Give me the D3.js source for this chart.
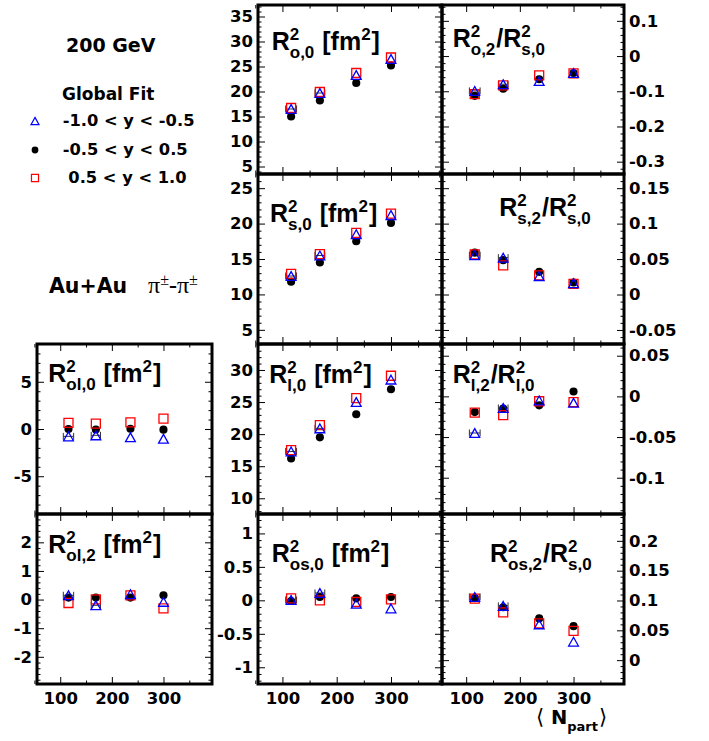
<!DOCTYPE html>
<html><head><meta charset="utf-8">
<script src="https://cdn.jsdelivr.net/npm/d3@7"></script>
<style>body{margin:0;background:#fff}svg{display:block}</style>
</head><body><svg id="c" width="709" height="741"></svg>
<script>
// ---------- data ----------
const npart = [116, 169, 236, 300];
const npartErr = [10, 9, 0, 0];          // x error bars (visible on the -1.0<y<-0.5 set)
const xTicks = [100, 200, 300];
const seriesLabels = ["-1.0 < y < -0.5", "-0.5 < y < 0.5", " 0.5 < y < 1.0"];

// R^2_{o,0}
const Ro0_tri  = [16.5, 19.7, 23.3, 26.5];
const Ro0_circ = [15.0, 18.2, 21.7, 25.2];
const Ro0_sq   = [16.7, 19.9, 23.7, 26.8];
const Ro0_ticks = [5, 10, 15, 20, 25, 30, 35];
// R^2_{o,2}/R^2_{s,0}
const Ro2_tri  = [-0.099, -0.080, -0.071, -0.048];
const Ro2_circ = [-0.113, -0.093, -0.066, -0.048];
const Ro2_sq   = [-0.108, -0.083, -0.055, -0.049];
const Ro2_ticks = [-0.3, -0.2, -0.1, 0, 0.1];
// R^2_{s,0}
const Rs0_tri  = [12.6, 15.5, 18.5, 21.2];
const Rs0_circ = [11.8, 14.5, 17.5, 20.1];
const Rs0_sq   = [12.9, 15.7, 18.7, 21.4];
const Rs0_ticks = [5, 10, 15, 20, 25];
// R^2_{s,2}/R^2_{s,0}
const Rs2_tri  = [0.0555, 0.052, 0.026, 0.016];
const Rs2_circ = [0.059, 0.0485, 0.032, 0.017];
const Rs2_sq   = [0.0565, 0.041, 0.027, 0.015];
const Rs2_ticks = [-0.05, 0, 0.05, 0.1, 0.15];
// R^2_{ol,0}
const Rol0_tri  = [-0.78, -0.67, -0.88, -1.03];
const Rol0_circ = [0.0, -0.05, 0.03, -0.07];
const Rol0_sq   = [0.64, 0.56, 0.70, 1.09];
const Rol0_ticks = [-5, 0, 5];
// R^2_{l,0}
const Rl0_tri  = [17.3, 20.9, 25.0, 28.5];
const Rl0_circ = [16.2, 19.5, 23.1, 27.0];
const Rl0_sq   = [17.5, 21.4, 25.6, 29.1];
const Rl0_ticks = [10, 15, 20, 25, 30];
// R^2_{l,2}/R^2_{l,0}
const Rl2_tri  = [-0.045, -0.0143, -0.005, -0.0078];
const Rl2_circ = [-0.0193, -0.015, -0.011, 0.006];
const Rl2_sq   = [-0.020, -0.023, -0.006, -0.007];
const Rl2_ticks = [-0.1, -0.05, 0, 0.05];
// R^2_{ol,2}
const Rol2_tri  = [0.15, -0.20, 0.19, -0.08];
const Rol2_circ = [0.07, 0.07, 0.07, 0.15];
const Rol2_sq   = [-0.12, 0.01, 0.15, -0.31];
const Rol2_ticks = [-2, -1, 0, 1, 2];
// R^2_{os,0}
const Ros0_tri  = [0.005, 0.11, -0.05, -0.12];
const Ros0_circ = [-0.01, 0.05, 0.03, 0.05];
const Ros0_sq   = [0.03, 0.0, -0.025, 0.015];
const Ros0_ticks = [-1, -0.5, 0, 0.5, 1];
// R^2_{os,2}/R^2_{s,0}
const Ros2_tri  = [0.106, 0.091, 0.060, 0.031];
const Ros2_circ = [0.104, 0.0886, 0.070, 0.057];
const Ros2_sq   = [0.103, 0.080, 0.0617, 0.049];
const Ros2_ticks = [0, 0.05, 0.1, 0.15, 0.2];

// ---------- layout ----------
const svg = d3.select("#c");
const colX = [[37, 212], [258, 442], [442, 624]];
const rowY = [[5, 174], [174, 344], [344, 514], [514, 684]];
const xDomain = [55, 394];
const TICKF = "DejaVu Sans", TITLEF = "Liberation Sans";
const TICKSIZE = 16.5;

const panels = [
  {col:1,row:0,dom:[3.5,37.3],ticks:Ro0_ticks,minor:1,data:[Ro0_tri,Ro0_circ,Ro0_sq],
   tpos:[13.7,45],title:[{n:"R"},{sup:"2",sub:"o,0"},{n:" [fm"},{sup:"2"},{n:"]"}]},
  {col:2,row:0,dom:[-0.335,0.145],ticks:Ro2_ticks,minor:0.02,data:[Ro2_tri,Ro2_circ,Ro2_sq],
   tpos:[10.7,42.3],title:[{n:"R"},{sup:"2",sub:"o,2"},{n:"/R"},{sup:"2",sub:"s,0"}]},
  {col:1,row:1,dom:[3,27],ticks:Rs0_ticks,minor:1,data:[Rs0_tri,Rs0_circ,Rs0_sq],
   tpos:[12,47.7],title:[{n:"R"},{sup:"2",sub:"s,0"},{n:" [fm"},{sup:"2"},{n:"]"}]},
  {col:2,row:1,dom:[-0.0698,0.170],ticks:Rs2_ticks,minor:0.01,data:[Rs2_tri,Rs2_circ,Rs2_sq],
   tpos:[57.3,41.7],title:[{n:"R"},{sup:"2",sub:"s,2"},{n:"/R"},{sup:"2",sub:"s,0"}]},
  {col:0,row:2,dom:[-9,9],ticks:Rol0_ticks,minor:1,data:[Rol0_tri,Rol0_circ,Rol0_sq],
   tpos:[11.3,37.7],title:[{n:"R"},{sup:"2",sub:"ol,0"},{n:" [fm"},{sup:"2"},{n:"]"}]},
  {col:1,row:2,dom:[7.55,34.05],ticks:Rl0_ticks,minor:1,data:[Rl0_tri,Rl0_circ,Rl0_sq],
   tpos:[11.3,39.3],title:[{n:"R"},{sup:"2",sub:"l,0"},{n:" [fm"},{sup:"2"},{n:"]"}]},
  {col:2,row:2,dom:[-0.1446,0.0644],ticks:Rl2_ticks,minor:0.01,data:[Rl2_tri,Rl2_circ,Rl2_sq],
   tpos:[10.7,39.3],title:[{n:"R"},{sup:"2",sub:"l,2"},{n:"/R"},{sup:"2",sub:"l,0"}]},
  {col:0,row:3,dom:[-2.95,2.99],ticks:Rol2_ticks,minor:0.2,data:[Rol2_tri,Rol2_circ,Rol2_sq],
   tpos:[11.3,39.3],title:[{n:"R"},{sup:"2",sub:"ol,2"},{n:" [fm"},{sup:"2"},{n:"]"}]},
  {col:1,row:3,dom:[-1.25,1.29],ticks:Ros0_ticks,minor:0.1,data:[Ros0_tri,Ros0_circ,Ros0_sq],
   tpos:[13.7,47.7],title:[{n:"R"},{sup:"2",sub:"os,0"},{n:" [fm"},{sup:"2"},{n:"]"}]},
  {col:2,row:3,dom:[-0.04,0.245],ticks:Ros2_ticks,minor:0.01,data:[Ros2_tri,Ros2_circ,Ros2_sq],
   tpos:[48,47.7],title:[{n:"R"},{sup:"2",sub:"os,2"},{n:"/R"},{sup:"2",sub:"s,0"}]}
];

const fmt = v => (v < 0 ? "-" : "") + String(Math.abs(v));
function minorVals(d, m) {
  const out = [];
  for (let i = Math.ceil(d[0] / m - 1e-9); i <= Math.floor(d[1] / m + 1e-9); i++) out.push(+(i * m).toFixed(6));
  return out;
}
const triSym = { draw(ctx, size) { const w = Math.sqrt(size), h = w * 0.9;
  ctx.moveTo(0, -h / 2); ctx.lineTo(w / 2, h / 2); ctx.lineTo(-w / 2, h / 2); ctx.closePath(); } };
const styles = [
  {type: triSym, size: 96, fill: "none", stroke: "#0000ff"},
  {type: d3.symbolCircle, size: 52, fill: "#000", stroke: "none"},
  {type: d3.symbolSquare, size: 81, fill: "none", stroke: "#ff0000"}
];
const drawOrder = [1, 2, 0];

function styleAxis(g, size) {
  g.select(".domain").remove();
  g.selectAll("line").attr("stroke", "#000").attr("stroke-width", 1);
  g.selectAll("text").attr("font-family", TICKF).attr("font-weight", "bold")
    .attr("font-size", size).attr("fill", "#000");
}

function drawTitle(g, x, y, parts) {
  let cx = x;
  parts.forEach(pt => {
    if (pt.n !== undefined) {
      const t = g.append("text").attr("x", cx).attr("y", y).attr("font-size", 25)
        .attr("xml:space", "preserve").style("white-space", "pre").text(pt.n);
      cx += t.node().getComputedTextLength();
    } else {
      let w = 0;
      if (pt.sup) { const t = g.append("text").attr("x", cx).attr("y", y - 10).attr("font-size", 17).text(pt.sup);
        w = Math.max(w, t.node().getComputedTextLength()); }
      if (pt.sub) { const t = g.append("text").attr("x", cx).attr("y", y + 8).attr("font-size", 17).text(pt.sub);
        w = Math.max(w, t.node().getComputedTextLength()); }
      cx += w + 1;
    }
  });
}

panels.forEach(p => {
  const [x0, x1] = colX[p.col], [y0, y1] = rowY[p.row];
  const x = d3.scaleLinear().domain(xDomain).range([x0, x1]);
  const y = d3.scaleLinear().domain(p.dom).range([y1, y0]);
  const g = svg.append("g");
  const labelsLeft = p.col < 2, bottom = p.row === 3;
  const mY = minorVals(p.dom, p.minor).filter(v => !p.ticks.some(t => Math.abs(t - v) < 1e-9));
  const mX = [50, 150, 250, 350];

  // y axes
  g.append("g").attr("transform", `translate(${x0},0)`)
    .call(d3.axisLeft(y).tickValues(p.ticks).tickSizeInner(-7).tickSizeOuter(0).tickPadding(5)
      .tickFormat(labelsLeft ? fmt : () => "")).call(a => styleAxis(a, TICKSIZE));
  g.append("g").attr("transform", `translate(${x0},0)`)
    .call(d3.axisLeft(y).tickValues(mY).tickSizeInner(-3.5).tickSizeOuter(0).tickFormat(() => ""))
    .call(a => styleAxis(a, TICKSIZE));
  g.append("g").attr("transform", `translate(${x1},0)`)
    .call(d3.axisRight(y).tickValues(p.ticks).tickSizeInner(-7).tickSizeOuter(0).tickPadding(5)
      .tickFormat(labelsLeft ? () => "" : fmt)).call(a => styleAxis(a, TICKSIZE));
  g.append("g").attr("transform", `translate(${x1},0)`)
    .call(d3.axisRight(y).tickValues(mY).tickSizeInner(-3.5).tickSizeOuter(0).tickFormat(() => ""))
    .call(a => styleAxis(a, TICKSIZE));
  // x axes
  g.append("g").attr("transform", `translate(0,${y0})`)
    .call(d3.axisTop(x).tickValues(xTicks).tickSizeInner(-7).tickSizeOuter(0).tickFormat(() => ""))
    .call(a => styleAxis(a, TICKSIZE));
  g.append("g").attr("transform", `translate(0,${y0})`)
    .call(d3.axisTop(x).tickValues(mX).tickSizeInner(-3.5).tickSizeOuter(0).tickFormat(() => ""))
    .call(a => styleAxis(a, TICKSIZE));
  g.append("g").attr("transform", `translate(0,${y1})`)
    .call(d3.axisBottom(x).tickValues(xTicks).tickSizeInner(-7).tickSizeOuter(0).tickPadding(8)
      .tickFormat(bottom ? d3.format("d") : () => "")).call(a => styleAxis(a, TICKSIZE));
  g.append("g").attr("transform", `translate(0,${y1})`)
    .call(d3.axisBottom(x).tickValues(mX).tickSizeInner(-3.5).tickSizeOuter(0).tickFormat(() => ""))
    .call(a => styleAxis(a, TICKSIZE));

  // x error bars (triangle series)
  const eg = g.append("g").attr("stroke", "#333").attr("stroke-width", 1).attr("fill", "none");
  npart.forEach((n, i) => {
    const e = npartErr[i]; if (!e) return;
    const yy = y(p.data[0][i]);
    eg.append("line").attr("x1", x(n - e)).attr("x2", x(n + e)).attr("y1", yy).attr("y2", yy);
    eg.append("line").attr("x1", x(n - e)).attr("x2", x(n - e)).attr("y1", yy - 3.5).attr("y2", yy + 3.5);
    eg.append("line").attr("x1", x(n + e)).attr("x2", x(n + e)).attr("y1", yy - 3.5).attr("y2", yy + 3.5);
  });

  // markers
  drawOrder.forEach(si => {
    const s = styles[si];
    g.append("g").selectAll("path").data(p.data[si]).join("path")
      .attr("transform", (v, i) => `translate(${x(npart[i])},${y(v)})`)
      .attr("d", d3.symbol().type(s.type).size(s.size))
      .attr("fill", s.fill).attr("stroke", s.stroke).attr("stroke-width", 1.3);
  });

  // frame
  g.append("rect").attr("x", x0).attr("y", y0).attr("width", x1 - x0).attr("height", y1 - y0)
    .attr("fill", "none").attr("stroke", "#000").attr("stroke-width", 3);

  // title
  const tg = g.append("g").attr("font-family", TITLEF).attr("font-weight", "bold").attr("fill", "#000");
  drawTitle(tg, x0 + p.tpos[0], y0 + p.tpos[1], p.title);
});

// ---------- free text & legend ----------
const T = svg.append("g").attr("font-family", TICKF).attr("font-weight", "bold").attr("fill", "#000");
T.append("text").attr("x", 66).attr("y", 52).attr("font-size", 19).text("200 GeV");
T.append("text").attr("x", 62).attr("y", 100).attr("font-size", 17).text("Global Fit");
const legY = [126, 155, 183];
const legStyles = [
  {type: triSym, size: 64, fill: "none", stroke: "#0000ff"},
  {type: d3.symbolCircle, size: 36, fill: "#000", stroke: "none"},
  {type: d3.symbolSquare, size: 50, fill: "none", stroke: "#ff0000"}
];
seriesLabels.forEach((lab, i) => {
  const s = legStyles[i];
  svg.append("path").attr("transform", `translate(35,${legY[i] - 5})`)
    .attr("d", d3.symbol().type(s.type).size(s.size))
    .attr("fill", s.fill).attr("stroke", s.stroke).attr("stroke-width", 1.2);
  T.append("text").attr("x", 62.7).attr("y", legY[i]).attr("font-size", 16.3)
    .attr("xml:space", "preserve").style("white-space", "pre").text(lab);
});
T.append("text").attr("x", 49).attr("y", 293).attr("font-size", 20.5).text("Au+Au");
const pi = svg.append("text").attr("x", 148).attr("y", 293).attr("font-family", "Liberation Serif")
  .attr("font-size", 24).attr("fill", "#000");
pi.append("tspan").text("π");
pi.append("tspan").attr("dy", -8).attr("font-size", 16).text("±");
pi.append("tspan").attr("dy", 8).attr("font-weight", "bold").text("-");
pi.append("tspan").text("π");
pi.append("tspan").attr("dy", -8).attr("font-size", 16).text("±");

// x axis title (single text element)
const xt = svg.append("text").attr("x", 536).attr("y", 724).attr("fill", "#000")
  .attr("font-family", TICKF).attr("xml:space", "preserve");
xt.append("tspan").attr("font-size", 21).text("⟨ ");
xt.append("tspan").attr("font-weight", "bold").attr("font-size", 19.5).text("N");
xt.append("tspan").attr("font-weight", "bold").attr("font-size", 13).attr("dx", 0).attr("dy", 7).text("part");
xt.append("tspan").attr("font-size", 21).attr("dx", 1).attr("dy", -7).text("⟩");
</script></body></html>
